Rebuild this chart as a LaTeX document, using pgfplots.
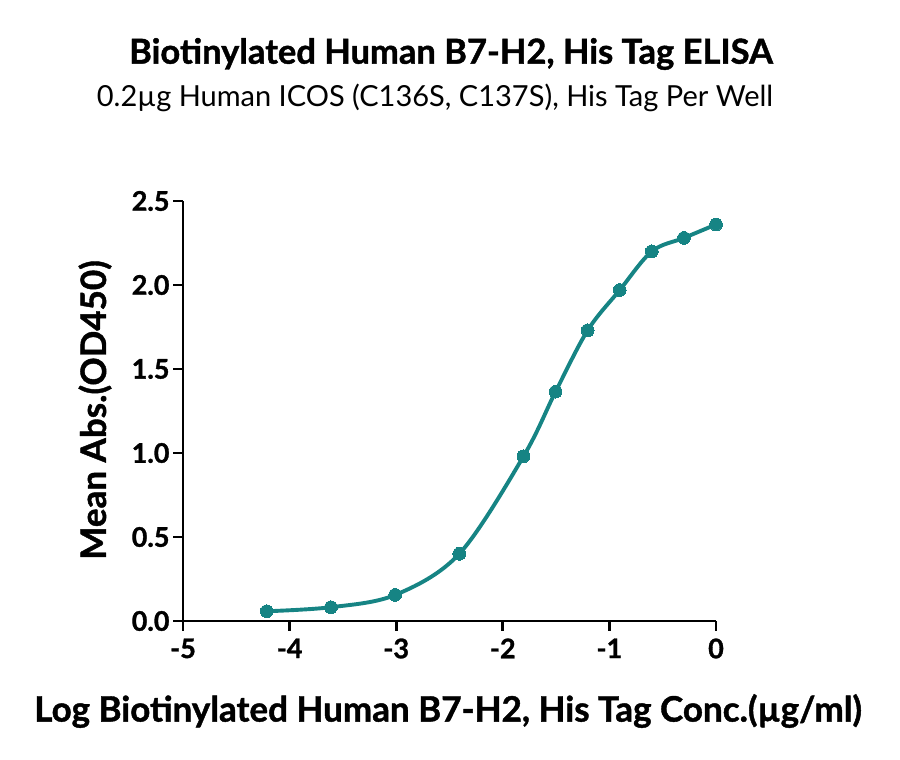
\documentclass[border=0pt]{standalone}
\usepackage{pgfplots}
\pgfplotsset{compat=1.18}
\usepackage{fontspec}
\setmainfont{Lato}[BoldFeatures={FakeBold=1.2}]
\definecolor{teal}{HTML}{168484}
\begin{document}
\begin{tikzpicture}[x=1bp,y=1bp]
\path[use as bounding box] (0,0) rectangle (900,760);
\begin{axis}[
    at={(183bp,139bp)}, anchor=south west,
    scale only axis, width=533bp, height=420bp,
    xmin=-5, xmax=0, ymin=0, ymax=2.5,
    axis lines*=left,
    axis line style={line width=2.8bp},
    every tick/.style={line width=2.8bp, black},
    tick align=outside,
    major tick length=10bp,
    xtick={-5,-4,...,0},
    ytick={0,0.5,...,2.5},
    /pgf/number format/assume math mode=true,
    yticklabel style={/pgf/number format/.cd, fixed, fixed zerofill, precision=1},
    xticklabel style={yshift=-4bp},
    ticklabel style={font=\fontsize{27bp}{29bp}\selectfont\bfseries},
    clip=false,
]
\addplot[teal, line width=3.9bp, smooth, tension=0.55, mark=*, mark size=6.4bp,
    mark options={fill=teal, draw=teal, line width=0bp}]
    coordinates {
    (-4.214,0.058) (-3.612,0.082) (-3.010,0.155) (-2.408,0.400)
    (-1.806,0.980) (-1.505,1.365) (-1.204,1.730) (-0.903,1.970)
    (-0.602,2.200) (-0.301,2.280) (0,2.360)
    };
\end{axis}
\node[font=\fontsize{34.5bp}{36bp}\selectfont\bfseries] at (451,706) {Biotinylated Human B7-H2, His Tag ELISA};
\node[font=\fontsize{29bp}{31bp}\selectfont] at (435,662) {0.2µg Human ICOS (C136S, C137S), His Tag Per Well};
\node[font=\fontsize{35bp}{37bp}\selectfont\bfseries] at (448,49) {Log Biotinylated Human B7-H2, His Tag Conc.(µg/ml)};
\node[font=\fontsize{35bp}{37bp}\selectfont\bfseries, rotate=90] at (95,350) {Mean Abs.(OD450)};
\end{tikzpicture}
\end{document}
